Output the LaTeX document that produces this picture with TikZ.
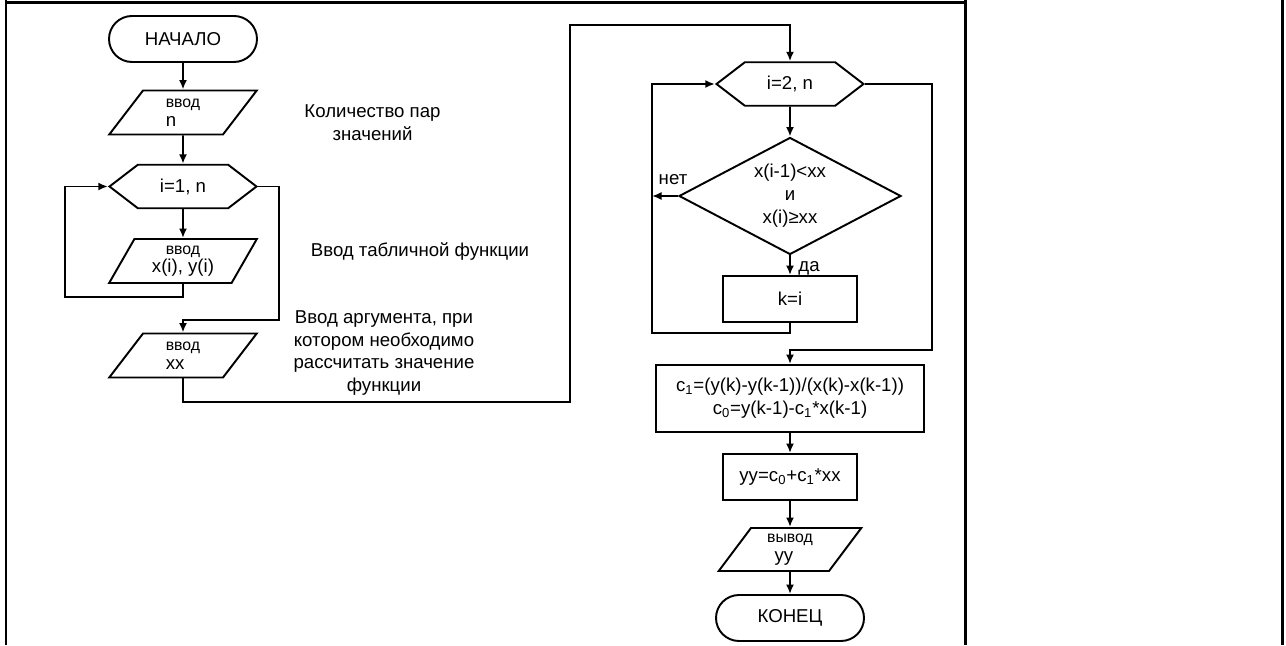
\documentclass[tikz,border=0pt]{standalone}
\usepackage{fontspec}
\setmainfont{Liberation Sans}
\usepackage{tikz}
\usetikzlibrary{shapes.geometric}
\usetikzlibrary{shapes.symbols}
\usetikzlibrary{arrows.meta}
\newcommand{\mainfnt}{\fontsize{10.6}{13}\selectfont}
\newcommand{\smallfnt}{\fontsize{9}{10}\selectfont}
\tikzset{
    base/.style={draw=black, line width=1.1pt, font=\mainfnt, align=center, inner sep=1pt},
    term/.style={base, rectangle, rounded corners=0.46cm, minimum width=2.96cm, minimum height=0.92cm},
    io/.style={base, trapezium, trapezium left angle=63, trapezium right angle=117,
        trapezium stretches=true, minimum width=2.96cm, minimum height=0.88cm},
    cycle/.style={base, signal, signal to=west and east, signal pointer angle=75,
        minimum width=2.94cm, minimum height=0.87cm},
    proc/.style={base, rectangle, minimum width=2.68cm, minimum height=0.92cm},
    cond/.style={base, diamond, shape aspect=1.9, inner sep=0pt, minimum width=4.44cm, minimum height=2.34cm},
    note/.style={font=\mainfnt, align=center},
    frame/.style={line width=1.7pt},
    flow/.style={line width=1.1pt, ->, >={Latex[length=1.9mm,width=1.6mm]}}}

\begin{document}
\begin{tikzpicture}

                    \useasboundingbox (0,0) rectangle (25.72,12.9);
                    \draw[frame] (0.12,12.9) -- (0.12,0);
                    \draw[frame] (0.12,12.84) -- (19.31,12.84);
                    \draw[frame] (19.31,12.9) -- (19.31,0);
                    \draw[frame] (25.65,12.9) -- (25.65,0);

                    \node[term] (A) at (3.66,12.12) {НАЧАЛО};
                    \node[io, align=left] (B) at (3.66,10.65) {{\smallfnt ввод}\\[-2pt]n};
                    \node[cycle] (C) at (3.66,9.17) {i=1, n};
                    \node[io] (D) at (3.66,7.68) {{\smallfnt ввод}\\[-3pt]x(i), y(i)};
                    \node[io, align=left] (E) at (3.66,5.79) {{\smallfnt ввод}\\[-2pt]xx};

                    \node[note] (N1) at (7.45,10.45) {Количество пар\\значений};
                    \node[note] (N2) at (8.4,7.86) {Ввод табличной функции};
                    \node[note] (N3) at (7.68,5.84) {Ввод аргумента, при\\котором необходимо\\рассчитать значение\\функции};

                    \node[cycle] (F) at (15.8,11.22) {i=2, n};
                    \node[cond] (G) at (15.8,8.98) {x(i-1)<xx\\и\\x(i)≥xx};
                    \node[proc] (H) at (15.8,6.92) {k=i};
                    \node[proc, minimum width=5.36cm, minimum height=1.34cm] (I) at (15.8,4.93)
                        {c\textsubscript{1}=(y(k)-y(k-1))/(x(k)-x(k-1))\\c\textsubscript{0}=y(k-1)-c\textsubscript{1}*x(k-1)};
                    \node[proc] (J) at (15.8,3.36) {yy=c\textsubscript{0}+c\textsubscript{1}*xx};
                    \node[io, align=left, trapezium left angle=60, trapezium right angle=120,
                        minimum width=2.86cm, minimum height=0.86cm] (K) at (15.8,1.91)
                        {{\smallfnt вывод}\\[-2pt]\hspace*{0.15cm}yy};
                    \node[term] (L) at (15.8,0.54) {КОНЕЦ};

                    \node[note] (no) at (13.46,9.3) {нет};
                    \node[note] (yes) at (16.18,7.54) {да};

                    \coordinate (lx) at (13.04,6.24);

                    \draw[flow] (A) -- (B);
                    \draw[flow] (B) -- (C);
                    \draw[flow] (C) -- (D);
                    \draw[flow] (D.south) |- (1.3,6.96) |- (C.west);
                    \draw[flow] (C.east) -| (5.58,6.5) -| (E.north);
                    \draw[flow] (E.south) |- (11.4,4.86) -- (11.4,12.4) -| (F.north);

                    \draw[flow] (F) -- (G);
                    \draw[flow] (G.west) -- (G.west -| lx);
                    \draw[flow] (G) -- (H);
                    \draw[flow] (H.south) |- (lx) |- (F.west);
                    \draw[flow] (F.east) -| (18.64,5.9) -| (I.north);
                    \draw[flow] (I) -- (J);
                    \draw[flow] (J) -- (K);
                    \draw[flow] (K) -- (L);

                \end{tikzpicture}
\end{document}
